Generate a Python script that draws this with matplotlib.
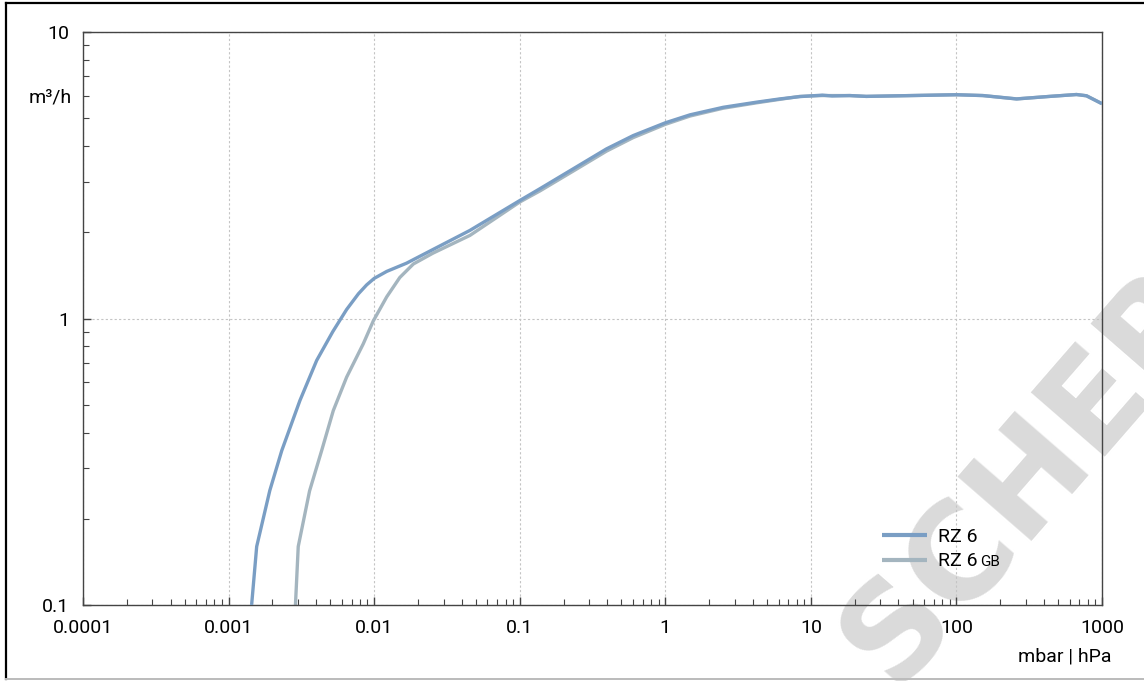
import numpy as np
import matplotlib
matplotlib.use("Agg")
import matplotlib.pyplot as plt
from matplotlib.lines import Line2D
from matplotlib.ticker import LogLocator, FixedLocator, NullFormatter

plt.rcParams['font.family'] = ['Roboto', 'DejaVu Sans']

# pressure (mbar) and pumping speed (m3/h)
rz6_p = [0.00144, 0.00156, 0.00192, 0.00232, 0.00309, 0.00403, 0.0052, 0.00647,
         0.0078, 0.00888, 0.01, 0.0122, 0.0167, 0.0242, 0.0455, 0.1, 0.138, 0.233, 0.395, 0.602,
         1.0, 1.48, 2.5, 4.24, 6.12, 8.4, 12, 14, 18.5, 24, 100, 152, 259, 438, 668, 782, 1000]
rz6_s = [0.1, 0.16, 0.251, 0.346, 0.517, 0.714, 0.90, 1.075,
         1.22, 1.31, 1.38, 1.46, 1.56, 1.72, 2.03, 2.58, 2.84, 3.33, 3.91, 4.35,
         4.82, 5.14, 5.46, 5.69, 5.84, 5.95, 6.02, 5.98, 6.0, 5.96, 6.04, 6.0, 5.84, 5.96, 6.05, 5.99, 5.62]

rz6gb_p = [0.00288, 0.00301, 0.0036, 0.00436, 0.00524, 0.00647, 0.00842, 0.00986,
           0.0122, 0.015, 0.0186, 0.0253, 0.0455, 0.1, 0.138, 0.233, 0.395, 0.602,
           1.0, 1.48, 2.5, 4.24, 6.12, 8.4, 12, 14, 18.5, 24, 100, 152, 259, 438, 668, 782, 1000]
rz6gb_s = [0.1, 0.16, 0.25, 0.346, 0.477, 0.624, 0.816, 0.98,
           1.19, 1.39, 1.55, 1.69, 1.95, 2.55, 2.79, 3.27, 3.84, 4.28,
           4.76, 5.09, 5.42, 5.66, 5.82, 5.96, 6.0, 6.0, 6.0, 5.96, 6.04, 6.0, 5.84, 5.96, 6.05, 5.99, 5.62]

x_ticks = [0.0001, 0.001, 0.01, 0.1, 1, 10, 100, 1000]
x_labels = ["0.0001", "0.001", "0.01", "0.1", "1", "10", "100", "1000"]
y_ticks = [0.1, 1, 10]
y_labels = ["0.1", "1", "10"]

blue = "#7a9ec4"
grey = "#a4b5bf"

W, H = 1144, 681
fig = plt.figure(figsize=(W / 100, H / 100), dpi=100)
ax = fig.add_axes([83/W, 1 - 605/H, (1102 - 83)/W, (605 - 32)/H])
ax.set_facecolor("none")

# watermark behind everything
fig.text(1030/W, 1 - 476/H, "SCHER", rotation=49, rotation_mode="anchor",
         ha="center", va="center", fontsize=96, fontweight="bold",
         family="DejaVu Sans", color="#dadada", zorder=-5)

ax.plot(rz6_p, rz6_s, color=blue, lw=2.4, label="RZ 6", solid_capstyle="butt", zorder=3)
ax.plot(rz6gb_p, rz6gb_s, color=grey, lw=2.4, label="RZ 6", solid_capstyle="butt", zorder=2)

ax.set_xscale("log")
ax.set_yscale("log")
ax.set_xlim(0.0001, 1000)
ax.set_ylim(0.1, 10)

ax.xaxis.set_major_locator(FixedLocator(x_ticks))
ax.set_xticklabels(x_labels)
ax.yaxis.set_major_locator(FixedLocator(y_ticks))
ax.set_yticklabels(y_labels)
ax.xaxis.set_minor_locator(LogLocator(base=10, subs=np.arange(2, 10)))
ax.yaxis.set_minor_locator(LogLocator(base=10, subs=np.arange(2, 10)))
ax.xaxis.set_minor_formatter(NullFormatter())
ax.yaxis.set_minor_formatter(NullFormatter())

ax.tick_params(which="both", direction="in", colors="#444444", labelcolor="black",
               labelsize=14, top=False, right=False)
ax.tick_params(axis="x", which="major", length=6, width=1, pad=10)
ax.tick_params(axis="y", which="major", length=6, width=1, pad=10)
ax.tick_params(which="minor", length=4, width=0.8)

ax.grid(True, which="major", color="#c4c4c4", lw=0.8, ls=(0, (2, 2)))
for s in ax.spines.values():
    s.set_color("#444444")
    s.set_linewidth(1.0)

ax.text(-0.011, 1 - (97 - 32) / 573, "m³/h", transform=ax.transAxes,
        ha="right", va="center", fontsize=14)
fig.text(1112/W, 1 - 657/H, "mbar | hPa", ha="right", va="center", fontsize=14)

leg = ax.legend(loc="lower right", bbox_to_anchor=(0.895, 0.03), frameon=False,
                fontsize=14, handlelength=2.3, handletextpad=0.55, labelspacing=0.35)
for ln in leg.get_lines():
    ln.set_linewidth(3)

# small "GB" after the second legend entry
fig.canvas.draw()
bb = leg.get_texts()[1].get_window_extent()
fig.text((bb.x1 + 3) / W, (bb.y0 + 1) / H, "GB", ha="left", va="bottom", fontsize=11)

# outer frame
fig.add_artist(Line2D([6/W, 6/W], [1 - 679/H, 1 - 3/H], color="black", lw=1.6))
fig.add_artist(Line2D([6/W, 1], [1 - 3/H, 1 - 3/H], color="black", lw=1.6))
fig.add_artist(Line2D([6/W, 1], [1 - 679/H, 1 - 679/H], color="#bbbbbb", lw=1.4))

fig.savefig("out.png", dpi=100)
